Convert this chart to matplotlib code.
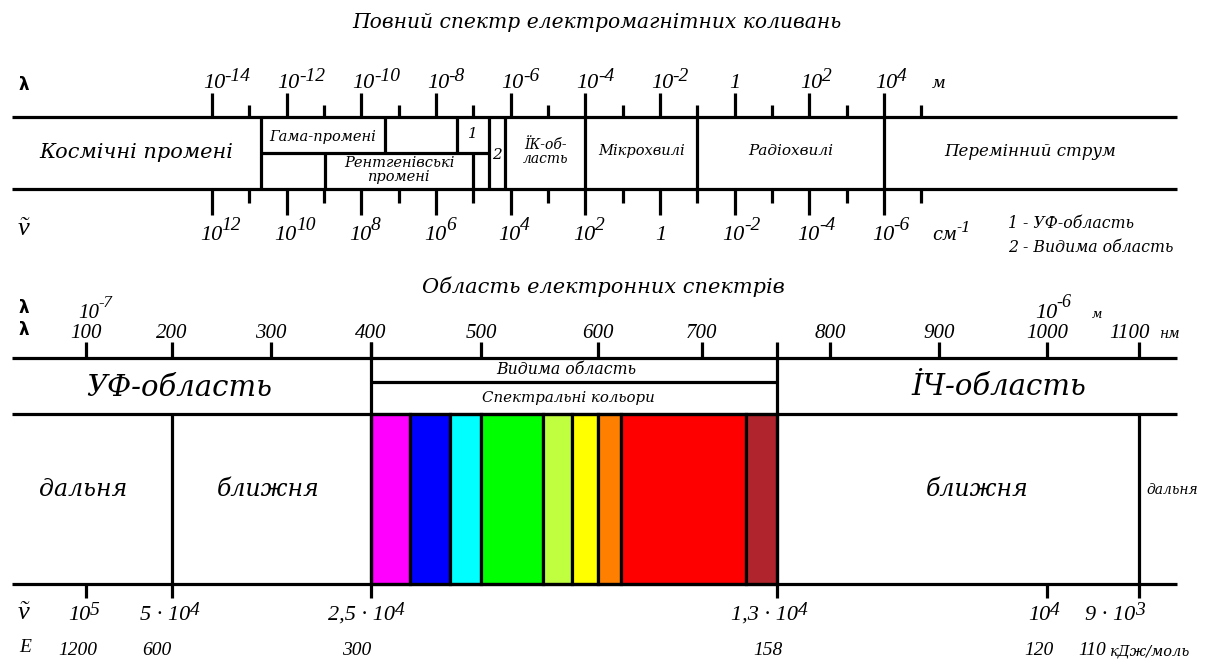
import numpy as np
import matplotlib
matplotlib.use("Agg")
import matplotlib.pyplot as plt

plt.rcParams["font.family"] = ["DejaVu Serif"]
plt.rcParams["font.style"] = "italic"
plt.rcParams["mathtext.fontset"] = "custom"
plt.rcParams["mathtext.rm"] = "Liberation Serif:italic"
plt.rcParams["mathtext.it"] = "Liberation Serif:italic"

W, H = 1208, 664

# ---- top band: full spectrum, x = log10(lambda / m)
TOP_MAJOR = [-14, -12, -10, -8, -6, -4, -2, 0, 2, 4]
TOP_MINOR = [-13, -11, -9, -7, -5, -3, -1, 1, 3, 5]
LAMBDA_M_EXP = ["-14", "-12", "-10", "-8", "-6", "-4", "-2", None, "2", "4"]
WAVENUMBER_CM_EXP = ["12", "10", "8", "6", "4", "2", None, "-2", "-4", "-6"]

TOP_NAMES = ["Космічні промені", "Гама-промені", "Рентгенівські\nпромені", "1", "2",
             "ЇК-об-\nласть", "Мікрохвилі", "Радіохвилі", "Перемінний струм"]
TOP_LO = [-19.36, -12.7, -10.97, -7.44, -6.58, -6.15, -4.0, -1.0, 4.0]
TOP_HI = [-12.7, -9.37, -7.0, -6.58, -6.15, -4.0, -1.0, 4.0, 11.85]
FULL_DIVIDERS = [-12.7, -6.58, -6.15, -4.0, -1.0, 4.0]
UPPER_DIVIDERS = [-9.37, -7.44]
LOWER_DIVIDERS = [-10.97, -7.0]

# ---- bottom band: electronic spectra, x = lambda in nm
NM_TICKS = [100, 200, 300, 400, 500, 600, 700, 800, 900, 1000, 1100]
BAND_NM = (14, 1141)
VISIBLE_NM = (400, 760)
COLOR_EDGES = [400, 435, 472, 500, 553, 578, 600, 622, 735, 760]
COLOR_FILLS = ["#ff00ff", "#0000ff", "#00ffff", "#00ff00", "#c0ff40",
               "#ffff00", "#ff8000", "#ff0000", "#b0252d"]
NU_NM = [100, 200, 400, 760, 1000, 1100]
NU_MANT = ["10", "5 · 10", "2,5 · 10", "1,3 · 10", "10", "9 · 10"]
NU_EXP = ["5", "4", "4", "4", "4", "3"]
E_LABELS = ["1200", "600", "300", "158", "120", "110"]

# hand-drawn (uneven) wavelength scale of the lower diagram
NODE_NM = [0, 100, 200, 300, 400, 500, 600, 700, 760, 800, 900, 1000, 1100, 1200]
NODE_PX = [0, 86, 172, 271, 371, 481, 598, 702, 777, 830, 939, 1047, 1139, 1231]

LW = 2.3
K = "black"
NUM = dict(fontfamily="Liberation Serif", style="italic")

fig = plt.figure(figsize=(W / 100, H / 100), dpi=100)
renderer = fig.canvas.get_renderer()


def power_label(axis, x, y, dx, mant, exp, size, esize, lift, **font):
    font = font or NUM
    if exp is None:
        axis.annotate(mant, (x, y), xytext=(dx, 0), textcoords="offset pixels",
                      ha="center", va="baseline", fontsize=size, **font)
        return
    base = axis.annotate(mant, (x, y), xytext=(dx, 0), textcoords="offset pixels",
                         ha="left", va="baseline", fontsize=size, **font)
    box = base.get_window_extent(renderer)
    axis.annotate(exp, (box.x1 - 0.5, H - y + lift), xycoords="figure pixels",
                  ha="left", va="baseline", fontsize=esize, **font)


# ================= top diagram =================
ax = fig.add_axes([0, 0, 1, 1])
ax.set_xlim(-14 - 212 / 37.333, -14 + 996 / 37.333)
ax.set_ylim(H, 0)
ax.axis("off")
free = ax.get_yaxis_transform()

ax.hlines([117, 189], TOP_LO[0], TOP_HI[-1], color=K, lw=LW)
ax.vlines(TOP_MAJOR, 93, 117, color=K, lw=LW)
ax.vlines(TOP_MAJOR, 189, 215, color=K, lw=LW)
ax.vlines(TOP_MINOR, 105, 117, color=K, lw=LW)
ax.vlines(TOP_MINOR, 189, 203, color=K, lw=LW)
ax.vlines(FULL_DIVIDERS, 117, 189, color=K, lw=LW)
ax.vlines(UPPER_DIVIDERS, 117, 153, color=K, lw=LW)
ax.vlines(LOWER_DIVIDERS, 153, 189, color=K, lw=LW)
ax.hlines(153, -12.7, -6.58, color=K, lw=LW)

for e, ex in zip(TOP_MAJOR, LAMBDA_M_EXP):
    mant = "1" if ex is None else "10"
    power_label(ax, e, 88, -9 if ex else 0, mant, ex, 16, 14, 7)
for e, ex in zip(TOP_MAJOR, WAVENUMBER_CM_EXP):
    mant = "1" if ex is None else "10"
    power_label(ax, e, 240, -12 if ex else 1, mant, ex, 16, 14, 10)

ax.annotate("м", (4, 88), xytext=(48, 0), textcoords="offset pixels",
            ha="left", va="baseline", fontsize=12)
power_label(ax, 4, 240, 48, "см", "-1", 13, 11, 8,
            fontfamily="DejaVu Serif", style="italic")

sizes = [15, 10.5, 10.5, 11, 11, 10, 10.5, 11, 12]
rows = [152, 137, 170, 134, 155, 152, 151, 151, 151]
for name, lo, hi, y, s in zip(TOP_NAMES, TOP_LO, TOP_HI, rows, sizes):
    ax.text((lo + hi) / 2, y, name, ha="center", va="center", fontsize=s,
            linespacing=1.0)

ax.text(597 / W, 22, "Повний спектр електромагнітних коливань", transform=free,
        ha="center", va="center", fontsize=14.6)
ax.text(1008 / W, 223, "1 - УФ-область", transform=free, ha="left", va="center",
        fontsize=11.3)
ax.text(1008 / W, 247, "2 - Видима область", transform=free, ha="left", va="center",
        fontsize=11.3)

sym = dict(fontfamily="DejaVu Sans", style="normal", fontweight="bold", fontsize=12,
           ha="center", va="center")
nu = dict(fontsize=19, ha="center", va="center")
ax.text(24 / W, 85, "λ", transform=free, **sym)
ax.text(24 / W, 228, r"$\tilde{\nu}$", transform=free, **nu)
ax.text(24 / W, 308, "λ", transform=free, **sym)
ax.text(24 / W, 330, "λ", transform=free, **sym)
ax.text(24 / W, 612, r"$\tilde{\nu}$", transform=free, **nu)
ax.text(25 / W, 648, "E", transform=free, ha="center", va="center", fontsize=14, **NUM)

ax.text(603 / W, 287, "Область електронних спектрів", transform=free,
        ha="center", va="center", fontsize=15)

# ================= bottom diagram =================
def fwd(v):
    return np.interp(v, NODE_NM, NODE_PX)


def inv(v):
    return np.interp(v, NODE_PX, NODE_NM)


bx = fig.add_axes([0, 0, 1, 1])
bx.set_xscale("function", functions=(fwd, inv))
bx.set_xlim(0, inv(W))
bx.set_ylim(H, 0)
bx.axis("off")

widths = np.diff(COLOR_EDGES)
bx.bar(COLOR_EDGES[:-1], [170] * len(widths), width=widths, bottom=414, align="edge",
       color=COLOR_FILLS, edgecolor=K, linewidth=LW)

bx.hlines([358, 414, 584], *BAND_NM, color=K, lw=LW)
bx.hlines(382, *VISIBLE_NM, color=K, lw=LW)
bx.vlines(NM_TICKS, 342, 358, color=K, lw=LW)
bx.vlines(list(VISIBLE_NM), 342, 598, color=K, lw=LW)
bx.vlines([200, 1100], 414, 598, color=K, lw=LW)
bx.vlines([100, 1000], 584, 598, color=K, lw=LW)

for nm in NM_TICKS:
    dx = -9 if nm == 1100 else 0
    bx.annotate(str(nm), (nm, 338), xytext=(dx, 0), textcoords="offset pixels",
                ha="center", va="baseline", fontsize=15, **NUM)
bx.annotate("нм", (1100, 338), xytext=(20, 0), textcoords="offset pixels",
            ha="left", va="baseline", fontsize=10)
power_label(bx, 100, 318, -8, "10", "-7", 15, 12, 11)
power_label(bx, 1000, 318, -12, "10", "-6", 16, 13, 11)
bx.annotate("м", (1000, 318), xytext=(45, 0), textcoords="offset pixels",
            ha="left", va="baseline", fontsize=9)

bx.text(207, 388, "УФ-область", ha="center", va="center", fontsize=21)
bx.text(955, 387, "İЧ-область", ha="center", va="center", fontsize=21)
bx.text(sum(VISIBLE_NM) / 2 - 7, 369, "Видима область", ha="center", va="center",
        fontsize=11.3)
bx.text(sum(VISIBLE_NM) / 2 - 5, 398, "Спектральні кольори", ha="center", va="center",
        fontsize=10.8)

for x, s, fs in zip([97, 297, 935, 1136], ["дальня", "ближня", "ближня", "дальня"],
                    [17, 17, 17, 10]):
    bx.text(x, 490, s, ha="center", va="center", fontsize=fs)

nu_dx = [-18, -32, -43, -46, -19, -54]
for nm, mant, ex, dx in zip(NU_NM, NU_MANT, NU_EXP, nu_dx):
    power_label(bx, nm, 620, dx, mant, ex, 16, 14, 5)

e_dx = [-8, -15, -14, -9, -8, -47]
for nm, lab, dx in zip(NU_NM, E_LABELS, e_dx):
    bx.annotate(lab, (nm, 655), xytext=(dx, 0), textcoords="offset pixels",
                ha="center", va="baseline", fontsize=14, **NUM)
bx.annotate("кДж/моль", (1100, 655), xytext=(-29, 0), textcoords="offset pixels",
            ha="left", va="baseline", fontsize=10.5)

fig.savefig("out.png", dpi=100)
